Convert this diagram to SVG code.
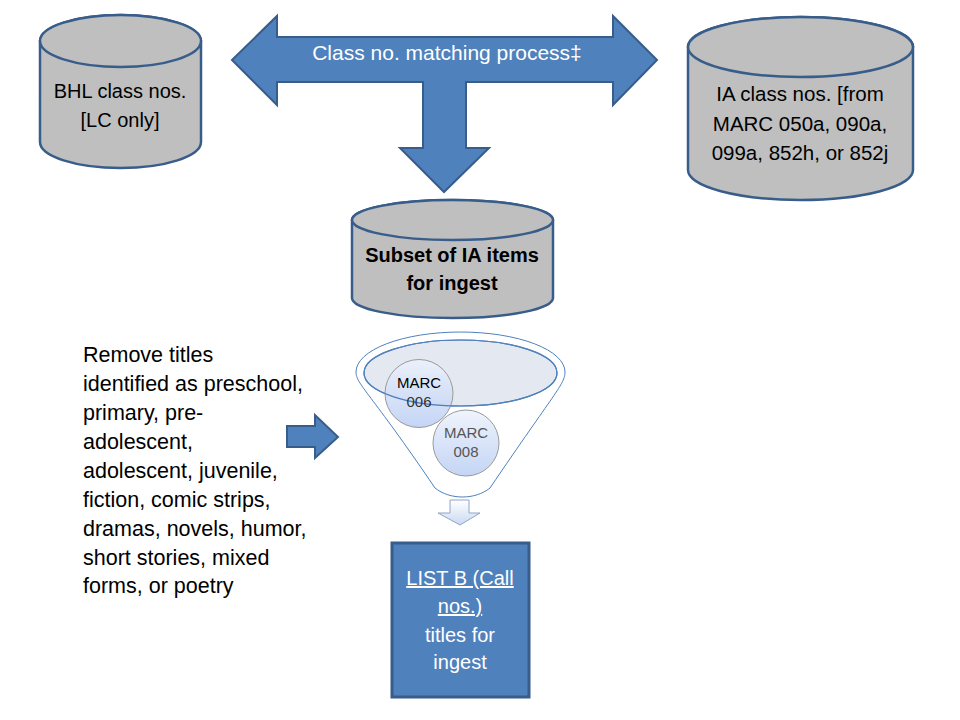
<svg xmlns="http://www.w3.org/2000/svg" width="960" height="720" viewBox="0 0 960 720">
<defs>
<style>
.cyl{fill:#BFBFBF;stroke:#385D8A;stroke-width:2.5}
.blue{fill:#4F81BD;stroke:#385D8A;stroke-width:2}
.t{font-family:"Liberation Sans",Arial,sans-serif;fill:#000;text-anchor:middle}
.w{font-family:"Liberation Sans",Arial,sans-serif;fill:#fff;text-anchor:middle}
.circ{stroke:#9A9A9A;stroke-width:1;fill:url(#cg);fill-opacity:0.85}
</style>
<linearGradient id="cg" x1="0" y1="0" x2="0" y2="1">
<stop offset="0" stop-color="#EDF2FC"/>
<stop offset="1" stop-color="#B9CDF3"/>
</linearGradient>
<linearGradient id="ag" x1="0" y1="0" x2="0" y2="1">
<stop offset="0" stop-color="#FFFFFF"/>
<stop offset="1" stop-color="#C9D9F2"/>
</linearGradient>
</defs>
<rect width="960" height="720" fill="#fff"/>
<g id="connectors">
<polygon id="matching-arrow" class="blue" points="232,60 277,16 277,37 613,37 613,16 657,60 613,105 613,82 466,82 466,148 489,148 444,192 400,148 423,148 423,82 277,82 277,105"/>
<text class="w" x="447" y="60" font-size="21">Class no. matching process‡</text>
<polygon id="remove-arrow" class="blue" points="287,426 315,426 315,415 338,437 315,458 315,447 287,447"/>
<polygon id="funnel-arrow" fill="url(#ag)" stroke="#8EA6C8" stroke-width="1" points="450,500 469,500 469,513 480,513 460,525 438,513 450,513"/>
</g>
<g id="bhl">
<path class="cyl" d="M40,41 A80.5,26 0 0 1 201,41 L201,142 A80.5,26 0 0 1 40,142 Z"/>
<ellipse class="cyl" cx="120.5" cy="41" rx="80.5" ry="26"/>
<text class="t" x="120" y="98" font-size="20">BHL class nos.</text>
<text class="t" x="120" y="127" font-size="20">[LC only]</text>
</g>
<g id="ia">
<path class="cyl" d="M688,47 A112.5,30 0 0 1 913,47 L913,170 A112.5,30 0 0 1 688,170 Z"/>
<ellipse class="cyl" cx="800.5" cy="47" rx="112.5" ry="30"/>
<text class="t" x="800" y="101" font-size="20.5">IA class nos. [from</text>
<text class="t" x="800" y="131" font-size="20.5">MARC 050a, 090a,</text>
<text class="t" x="800" y="160" font-size="20.5">099a, 852h, or 852j</text>
</g>
<g id="subset">
<path class="cyl" d="M352,220 A100.5,20 0 0 1 553,220 L553,298 A100.5,20 0 0 1 352,298 Z"/>
<ellipse class="cyl" cx="452.5" cy="220" rx="100.5" ry="20"/>
<text class="t" x="452" y="262" font-size="20" font-weight="bold">Subset of IA items</text>
<text class="t" x="452" y="290" font-size="20" font-weight="bold">for ingest</text>
</g>
<g id="remove-text" font-family="'Liberation Sans',Arial,sans-serif" font-size="21.5" fill="#000">
<text x="83" y="362">Remove titles</text>
<text x="83" y="391">identified as preschool,</text>
<text x="83" y="420">primary, pre-</text>
<text x="83" y="449">adolescent,</text>
<text x="83" y="478">adolescent, juvenile,</text>
<text x="83" y="507">fiction, comic strips,</text>
<text x="83" y="536">dramas, novels, humor,</text>
<text x="83" y="565">short stories, mixed</text>
<text x="83" y="593">forms, or poetry</text>
</g>
<g id="funnel">
<path d="M356,372 A104.5,40 0 0 1 565,372 C565,384 555,392 490,488 C475,500 450,500 435,488 C370,392 356,384 356,372 Z" fill="#fff" stroke="#4F81BD" stroke-width="1"/>
<ellipse cx="460.5" cy="373" rx="96.5" ry="33" fill="#E4E8F1" stroke="#4F81BD" stroke-width="1.2"/>
</g>
<g id="marc006">
<circle class="circ" cx="419" cy="393.5" r="34"/>
<ellipse cx="460.5" cy="373" rx="96.5" ry="33" fill="none" stroke="#4F81BD" stroke-width="1.2"/>
<text class="t" x="419" y="388" font-size="15" fill="#111">MARC</text>
<text class="t" x="419" y="407" font-size="15" style="fill:#333">006</text>
</g>
<g id="marc008">
<circle class="circ" cx="466" cy="443" r="33"/>
<text class="t" x="466" y="438" font-size="15" style="fill:#555">MARC</text>
<text class="t" x="466" y="457" font-size="15" style="fill:#555">008</text>
</g>
<g id="listb">
<rect x="392" y="543" width="137" height="154" fill="#4F81BD" stroke="#385D8A" stroke-width="3"/>
<text class="w" x="460" y="585" font-size="20" text-decoration="underline">LIST B (Call</text>
<text class="w" x="460" y="613" font-size="20" text-decoration="underline">nos.)</text>
<text class="w" x="460" y="642" font-size="20">titles for</text>
<text class="w" x="460" y="669" font-size="20">ingest</text>
</g>
</svg>
